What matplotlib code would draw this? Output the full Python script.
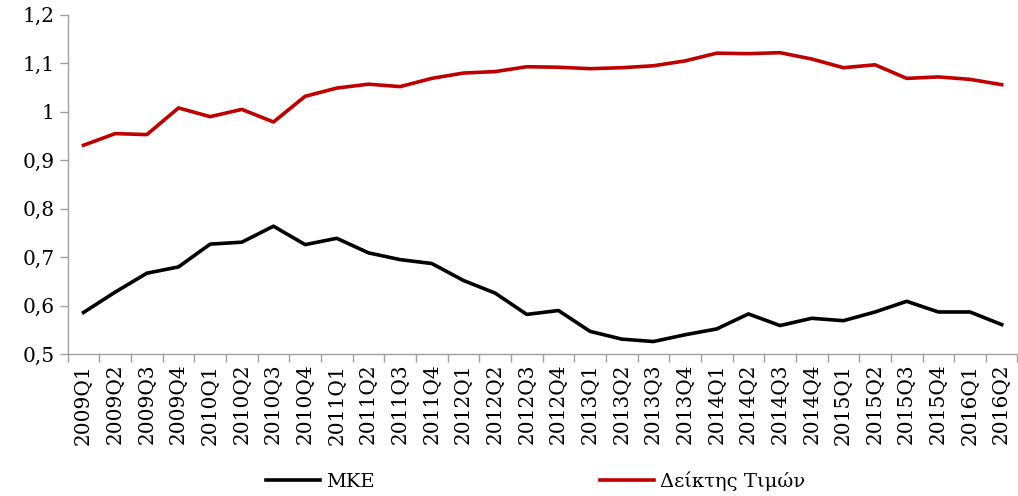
import matplotlib
matplotlib.use("Agg")
import matplotlib.pyplot as plt
from matplotlib.ticker import FuncFormatter, MultipleLocator

quarters = [f"{y}Q{q}" for y in range(2009, 2017) for q in range(1, 5)][:30]

mke = [0.586, 0.628, 0.667, 0.680, 0.727, 0.731, 0.764, 0.726, 0.739, 0.709,
       0.695, 0.687, 0.652, 0.626, 0.582, 0.590, 0.547, 0.531, 0.526, 0.540,
       0.552, 0.583, 0.559, 0.574, 0.569, 0.587, 0.609, 0.587, 0.587, 0.561]

price_index = [0.931, 0.955, 0.953, 1.008, 0.990, 1.005, 0.979, 1.032, 1.049, 1.057,
               1.052, 1.069, 1.080, 1.083, 1.093, 1.092, 1.089, 1.091, 1.095, 1.105,
               1.121, 1.120, 1.122, 1.109, 1.091, 1.097, 1.069, 1.072, 1.067, 1.056]

plt.rcParams['font.family'] = ['DejaVu Serif']

fig = plt.figure(figsize=(10.18, 4.96), dpi=100)
ax = fig.add_axes([0.0665, 0.286, 0.933, 0.684])

x = list(range(len(quarters)))
ax.plot(x, mke, color='black', lw=2.6, label='ΜΚΕ')
ax.plot(x, price_index, color='#c00000', lw=2.6, label='Δείκτης Τιμών')

ax.set_xlim(-0.5, len(quarters) - 0.5)
ax.set_ylim(0.5, 1.2)
ax.yaxis.set_major_locator(MultipleLocator(0.1))
ax.yaxis.set_major_formatter(FuncFormatter(lambda v, p: f"{v:.1f}".rstrip('0').rstrip('.').replace('.', ',')))

# ticks at category boundaries, labels at centres
ax.set_xticks([i - 0.5 for i in range(len(quarters) + 1)])
ax.set_xticklabels([])
ax.set_xticks(x, minor=True)
ax.set_xticklabels(quarters, minor=True, rotation=90, fontsize=14.5)
ax.tick_params(axis='x', which='minor', length=0, pad=7)
ax.tick_params(axis='x', which='major', length=6, color='#a0a0a0', width=1)
ax.tick_params(axis='y', length=6, color='#a0a0a0', width=1, labelsize=14.5)

for s in ['top', 'right']:
    ax.spines[s].set_visible(False)
for s in ['left', 'bottom']:
    ax.spines[s].set_color('#a0a0a0')
    ax.spines[s].set_linewidth(1)

fig.legend(loc='lower center', ncol=2, frameon=False, fontsize=14,
           bbox_to_anchor=(0.526, -0.025), columnspacing=11.6, handlelength=2.8,
           handletextpad=0.3)

fig.savefig('out.png', dpi=100)
